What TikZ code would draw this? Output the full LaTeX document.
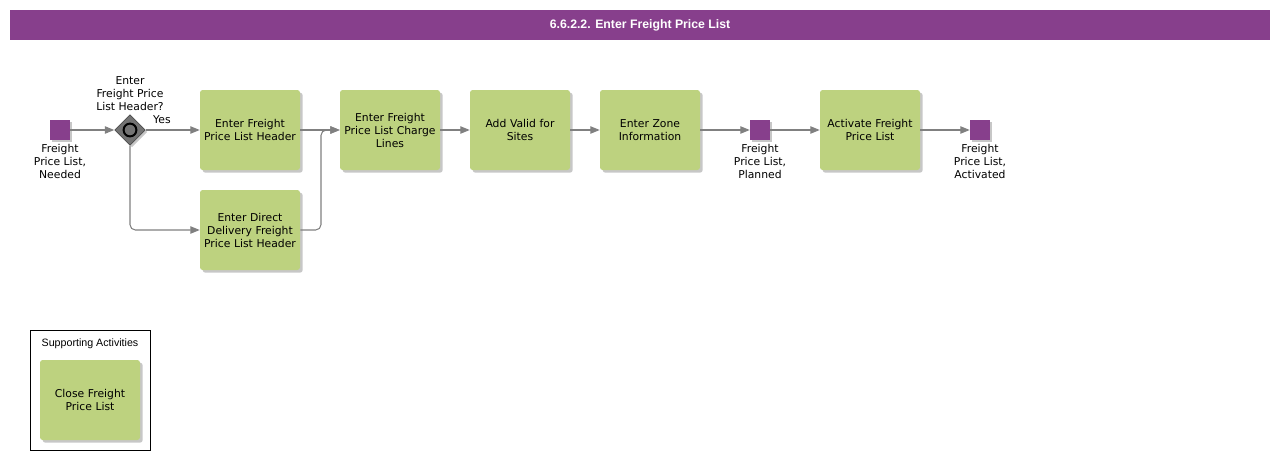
\documentclass[tikz,border=0pt]{standalone}
\usepackage{fontspec}
\setmainfont{DejaVu Sans}
\newfontfamily\titlefont{Liberation Sans}
\usetikzlibrary{arrows.meta,shapes.geometric,shadows}
\definecolor{bpurple}{HTML}{873F8C}
\definecolor{bgreen}{HTML}{BDD27F}
\definecolor{bline}{HTML}{808080}
\begin{document}
\begin{tikzpicture}[x=0.75pt,y=-0.75pt,
  every node/.style={font=\fontsize{8.1}{9.75}\selectfont, align=center, inner sep=0pt},
  task/.style={fill=bgreen, rounded corners=2pt, minimum width=75pt, minimum height=60pt, text width=75pt,
    drop shadow={shadow xshift=2pt, shadow yshift=-2pt, fill=black!40, opacity=0.55}},
  dataobj/.style={fill=bpurple, minimum size=15pt,
    drop shadow={shadow xshift=1.5pt, shadow yshift=-1.5pt, fill=black!40, opacity=0.55}},
  lbl/.style={anchor=north},
  conn/.style={draw=bline, line width=0.8pt, -{Triangle[length=7pt,width=5.5pt]}},
]
\useasboundingbox (0,0) rectangle (1280,460);
% title
\fill[bpurple] (10,10) rectangle (1270,40);
\node[text=white, font=\titlefont\bfseries\fontsize{9.2}{11}\selectfont] (title) at (640,25) {6.6.2.2. Enter Freight Price List};

% start data object
\node[dataobj] (start) at (60,130) {};
\node[lbl] (startl) at (60,144) {Freight\\Price List,\\Needed};

% gateway
\node[diamond, fill=black!55, draw=black!70, line width=0.6pt, minimum size=23pt,
  drop shadow={shadow xshift=1.5pt, shadow yshift=-1.5pt, fill=black!40, opacity=0.55}] (gw) at (130,130) {};
\draw[black, line width=1.5pt] (gw.center) circle (4.8pt);
\node[anchor=south] (gwl) at (130,111) {Enter\\Freight Price\\List Header?};

% tasks
\node[task] (t1) at (250,130) {Enter Freight\\Price List Header};
\node[task] (t2) at (250,230) {Enter Direct\\Delivery Freight\\Price List Header};
\node[task] (t3) at (390,130) {Enter Freight\\Price List Charge\\Lines};
\node[task] (t4) at (520,130) {Add Valid for\\Sites};
\node[task] (t5) at (650,130) {Enter Zone\\Information};
\node[dataobj] (planned) at (760,130) {};
\node[lbl] (plannedl) at (760,144) {Freight\\Price List,\\Planned};
\node[task] (t6) at (870,130) {Activate Freight\\Price List};
\node[dataobj] (act) at (980,130) {};
\node[lbl] (actl) at (980,144) {Freight\\Price List,\\Activated};

% connectors
\draw[conn] (start.east) -- (gw.west);
\draw[conn] (gw.east) -- node[above=4pt, pos=0.3] (yes) {Yes} (t1.west);
\draw[conn, rounded corners=4pt] (gw.south) -- (130,230) -- (t2.west);
\draw[conn] (t1.east) -- (t3.west);
\coordinate (jn) at (321,230);
\draw[conn, rounded corners=4pt] (t2.east) -- (jn) -- (321,130) -- (t3.west);
\draw[conn] (t3.east) -- (t4.west);
\draw[conn] (t4.east) -- (t5.west);
\draw[conn] (t5.east) -- (planned.west);
\draw[conn] (planned.east) -- (t6.west);
\draw[conn] (t6.east) -- (act.west);

% supporting activities
\node[draw=black, line width=0.6pt, minimum width=90pt, minimum height=90pt] (sup) at (90,390) {};
\node[font=\titlefont\fontsize{8}{9}\selectfont] (supl) at (90,344) {Supporting Activities};
\node[task] (t7) at (90,400) {Close Freight\\Price List};
\end{tikzpicture}
\end{document}
